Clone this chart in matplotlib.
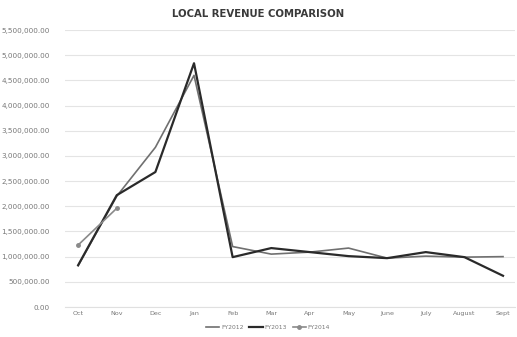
import matplotlib
matplotlib.use("Agg")
import matplotlib.pyplot as plt
import numpy as np
from matplotlib.ticker import FuncFormatter, MultipleLocator

months = ["Oct", "Nov", "Dec", "Jan", "Feb", "Mar", "Apr", "May", "June", "July", "August", "Sept"]
fy2012 = [820000, 2200000, 3170000, 4600000, 1200000, 1050000, 1090000, 1170000, 970000, 1010000, 990000, 1000000]
fy2013 = [830000, 2220000, 2680000, 4840000, 990000, 1170000, 1090000, 1010000, 970000, 1090000, 990000, 620000]
fy2014 = [1230000, 1960000, np.nan, np.nan, np.nan, np.nan, np.nan, np.nan, np.nan, np.nan, np.nan, np.nan]

fig = plt.figure(figsize=(5.17, 3.37), dpi=100)
ax = fig.add_axes([65/517, (337-307)/337, 450/517, 277/337])

x = np.arange(len(months))
ax.plot(x, fy2012, color="#707070", lw=1.2, label="FY2012")
ax.plot(x, fy2013, color="#2a2a2a", lw=1.6, label="FY2013")
ax.plot(x, fy2014, color="#8a8a8a", lw=1.2, marker="o", ms=2.5, label="FY2014")

ax.set_xlim(-0.34, 11.31)
ax.set_ylim(0, 5500000)
ax.yaxis.set_major_locator(MultipleLocator(500000))
ax.yaxis.set_major_formatter(FuncFormatter(lambda v, p: f"{v:,.2f}"))
ax.set_xticks(x)
ax.set_xticklabels(months)
ax.grid(axis="y", color="#e4e4e4", lw=0.8)
ax.set_axisbelow(True)
for s in ax.spines.values():
    s.set_visible(False)
ax.spines["bottom"].set_visible(True)
ax.spines["bottom"].set_color("#e0e0e0")
ax.tick_params(axis="x", length=0, labelsize=4.6, colors="#777777", pad=3)
ax.tick_params(axis="y", length=0, labelsize=5.2, colors="#777777", pad=11)

fig.text(0.5, 0.958, "LOCAL REVENUE COMPARISON", ha="center", va="center",
         fontsize=7.3, fontweight="bold", color="#3a3a3a")

leg = fig.legend(loc="center", bbox_to_anchor=(268/517, 1 - 327/337), ncol=3, frameon=False,
                 fontsize=4.3, handlelength=2.2, columnspacing=1.0, handletextpad=0.3)
for t in leg.get_texts():
    t.set_color("#777777")

fig.savefig("out.png", dpi=100)
